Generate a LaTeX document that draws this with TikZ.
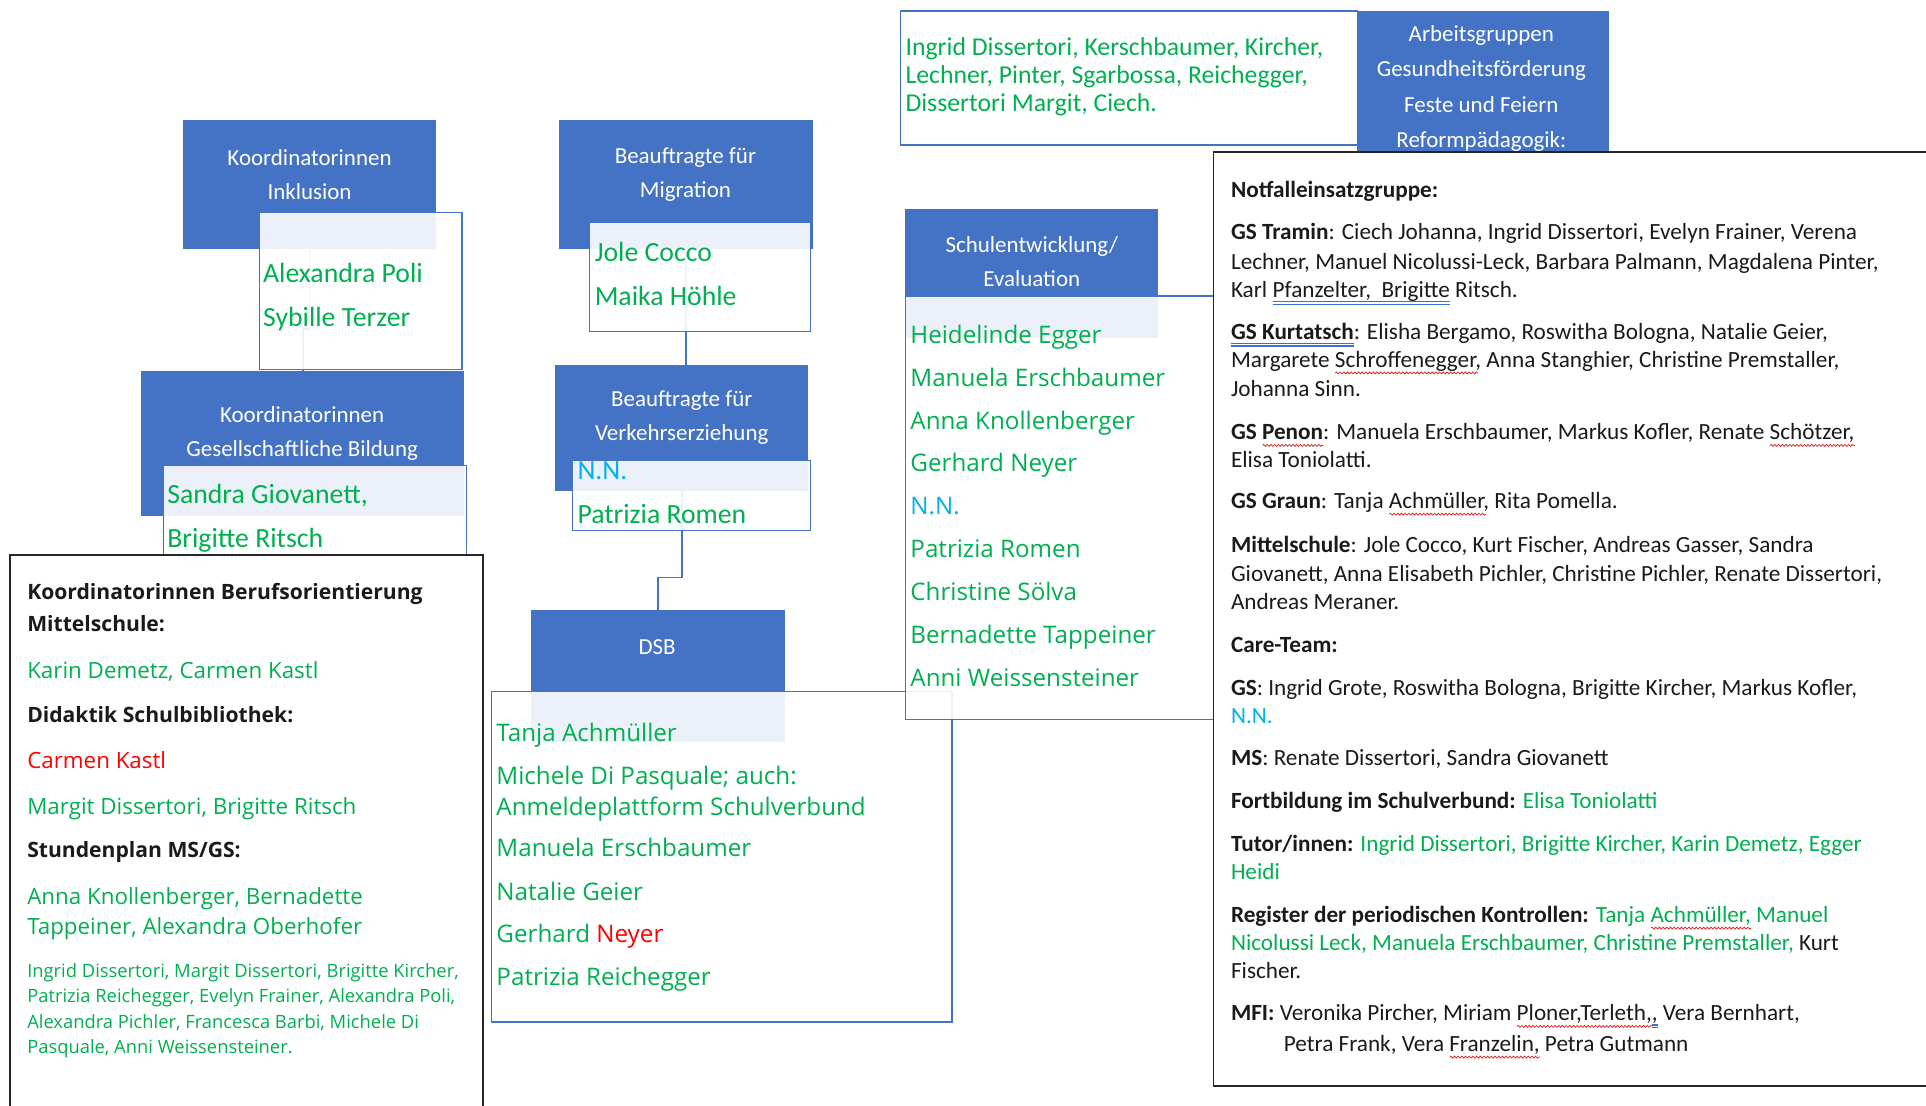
\documentclass[tikz,border=0pt]{standalone}
\usepackage{fontspec}
\setmainfont{Carlito}
\newfontfamily\osans{Open Sans}
\usetikzlibrary{backgrounds,decorations.pathmorphing}
\definecolor{boxblue}{HTML}{4472C4}
\definecolor{mygreen}{HTML}{00B050}
\definecolor{mycyan}{HTML}{00B0F0}
\definecolor{myred}{HTML}{FF0000}
\definecolor{txt}{HTML}{1A1A1A}
\definecolor{wavered}{HTML}{E02020}
\definecolor{ulblue}{HTML}{3B6FD8}
\newlength\mkwd
\newcommand\rwave[1]{\settowidth\mkwd{#1}\rlap{\tikz[baseline=0pt]{\draw[wavered, line width=0.6pt, decorate, decoration={snake, amplitude=0.8pt, segment length=3pt}] (0pt,-4.6pt) -- (\mkwd,-4.6pt);}}#1}
\newcommand\bdbl[1]{\settowidth\mkwd{#1}\rlap{\color{ulblue}\rule[-3.9pt]{\mkwd}{0.9pt}}\rlap{\color{ulblue}\rule[-6.1pt]{\mkwd}{0.9pt}}#1}
\begin{document}
\begin{tikzpicture}[x=1pt,y=-1pt,
  bluebox/.style={fill=boxblue, draw=none, inner sep=0pt, outer sep=0pt, anchor=north west},
  namebox/.style={fill=white, fill opacity=0.9, draw=boxblue, line width=1.1pt, inner sep=0pt, outer sep=0pt, anchor=north west},
  panel/.style={fill=white, draw=black!85, line width=1.4pt, inner sep=0pt, outer sep=0pt, anchor=north west},
  conn/.style={draw=boxblue, line width=1.3pt},
  hdr/.style={text=white, align=center, inner sep=0pt, font=\fontsize{18.7}{28}\selectfont},
  nm/.style={anchor=base west, inner sep=0pt, text=mygreen, font=\fontsize{22.6}{27}\selectfont},
  tg/.style={anchor=base west, inner sep=0pt, text=mygreen, font=\fontsize{20.95}{23}\selectfont},
  os/.style={anchor=base west, inner sep=0pt, text=mygreen, font=\osans\fontsize{19.7}{24}\selectfont},
  lb/.style={anchor=base west, inner sep=0pt, text=txt, font=\osans\bfseries\fontsize{17.2}{20}\selectfont},
  lg/.style={anchor=base west, inner sep=0pt, text=mygreen, font=\osans\fontsize{18.2}{22}\selectfont},
  ls/.style={anchor=base west, inner sep=0pt, text=mygreen, font=\osans\fontsize{14.95}{18}\selectfont},
  rp/.style={anchor=base west, inner sep=0pt, text=txt, font=\fontsize{18.9}{23}\selectfont}]
\clip (0,0) rectangle (1568,900);

% blue header boxes
\node[bluebox, minimum width=206pt, minimum height=105pt] (inklB) at (149,98) {};
\node[bluebox, minimum width=263pt, minimum height=118pt] (gesB) at (115,302) {};
\node[bluebox, minimum width=207pt, minimum height=105pt] (migB) at (455,98) {};
\node[bluebox, minimum width=206pt, minimum height=103pt] (verB) at (452,297) {};
\node[bluebox, minimum width=207pt, minimum height=107pt] (dsbB) at (432,497) {};
\node[bluebox, minimum width=206pt, minimum height=105pt] (schB) at (737,170) {};
\node[bluebox, minimum width=205pt, minimum height=135pt] (agB) at (1105,9) {};

% page background and connectors (under everything)
\begin{pgfonlayer}{background}
\fill[white] (0,0) rectangle (1568,900);
\draw[conn] (inklB.south) -- ++(0,65) -| (gesB.north);
\draw[conn] (migB.south) -- (migB.south |- verB.north);
\draw[conn] (verB.south) -- ++(0,70) -| (dsbB.north);
\end{pgfonlayer}

% name boxes
\node[namebox, minimum width=165pt, minimum height=128pt] (inklW) at (211,173) {};
\node[namebox, minimum width=247pt, minimum height=100pt] (gesW) at (133,379) {};
\node[namebox, minimum width=180pt, minimum height=89pt] (migW) at (480,181) {};
\node[namebox, minimum width=194pt, minimum height=57pt] (verW) at (466,375) {};
\node[namebox, minimum width=375pt, minimum height=269pt] (dsbW) at (400,563) {};
\node[namebox, minimum width=251pt, minimum height=345pt] (schW) at (737,241) {};
\node[namebox, minimum width=372pt, minimum height=109pt] (agW) at (733,9) {};

% header texts
\node[hdr] (inklH) at (252,142) {Koordinatorinnen\\Inklusion};
\node[hdr] (gesH) at (246,353) {Koordinatorinnen\\Gesellschaftliche Bildung};
\node[hdr] (migH) at (558,142) {Beauftragte für\\Migration};
\node[hdr] (verH) at (555,340) {Beauftragte für\\Verkehrserziehung};
\node[hdr] (dsbH) at (535,527) {DSB};
\node[hdr] (schH) at (840,213) {Schulentwicklung/\\Evaluation};
\node[hdr, font=\fontsize{18.7}{29}\selectfont] (agH) at (1206,72) {Arbeitsgruppen\\Gesundheitsförderung\\Feste und Feiern\\Reformpädagogik:};

% names
\node[nm] (n1) at (214,230) {Alexandra Poli};
\node[nm] (n2) at (214,266) {Sybille Terzer};
\node[nm] (n3) at (136,410) {Sandra Giovanett,};
\node[nm] (n4) at (136,446) {Brigitte Ritsch};
\node[nm] (n5) at (484,213) {Jole Cocco};
\node[nm] (n6) at (484,249) {Maika Höhle};
\node[nm, text=mycyan] (n7) at (470,390) {N.N.};
\node[nm] (n8) at (470,426) {Patrizia Romen};

\node[tg] (t1) at (737,45.5) {Ingrid Dissertori, Kerschbaumer, Kircher,};
\node[tg] (t2) at (737,68) {Lechner, Pinter, Sgarbossa, Reichegger,};
\node[tg] (t3) at (737,90.5) {Dissertori Margit, Ciech.};

% Schulentwicklung list
\foreach \t [count=\i from 0] in {Heidelinde Egger, Manuela Erschbaumer, Anna Knollenberger, Gerhard Neyer, {\textcolor{mycyan}{N.N.}}, Patrizia Romen, Christine Sölva, Bernadette Tappeiner, Anni Weissensteiner}
  \node[os] (s\i) at (741,279.5+34.9*\i) {\t};

% DSB list
\node[os] (d1) at (404,603.5) {Tanja Achmüller};
\node[os] (d2) at (404,638.5) {Michele Di Pasquale; auch:};
\node[os] (d3) at (404,663.5) {Anmeldeplattform Schulverbund};
\node[os] (d4) at (404,697.5) {Manuela Erschbaumer};
\node[os] (d5) at (404,733.5) {Natalie Geier};
\node[os] (d6) at (404,767.5) {Gerhard \textcolor{myred}{Neyer}};
\node[os] (d7) at (404,802.5) {Patrizia Reichegger};

% left panel
\node[panel, minimum width=385pt, minimum height=470pt] (leftP) at (8,452) {};
\node[lb] (l1) at (22,488) {Koordinatorinnen Berufsorientierung};
\node[lb] (l2) at (22,514) {Mittelschule:};
\node[lg] (l3) at (22,552) {Karin Demetz, Carmen Kastl};
\node[lb] (l4) at (22,588) {Didaktik Schulbibliothek:};
\node[lg, text=myred] (l5) at (22,626) {Carmen Kastl};
\node[lg] (l6) at (22,663) {Margit Dissertori, Brigitte Ritsch};
\node[lb] (l7) at (22,698) {Stundenplan MS/GS:};
\node[lg] (l8) at (22,736) {Anna Knollenberger, Bernadette};
\node[lg] (l9) at (22,761) {Tappeiner, Alexandra Oberhofer};
\node[ls] (l10) at (22,796) {Ingrid Dissertori, Margit Dissertori, Brigitte Kircher,};
\node[ls] (l11) at (22,816) {Patrizia Reichegger, Evelyn Frainer, Alexandra Poli,};
\node[ls] (l12) at (22,837) {Alexandra Pichler, Francesca Barbi, Michele Di};
\node[ls] (l13) at (22,858) {Pasquale, Anni Weissensteiner.};

% right panel
\node[panel, minimum width=620pt, minimum height=760pt] (rightP) at (988,124) {};
\node[rp] (r1) at (1002,161) {\textbf{Notfalleinsatzgruppe:}};
\node[rp] (r2) at (1002,195) {\textbf{GS Tramin}: Ciech Johanna, Ingrid Dissertori, Evelyn Frainer, Verena};
\node[rp] (r3) at (1002,219) {Lechner, Manuel Nicolussi-Leck, Barbara Palmann, Magdalena Pinter,};
\node[rp] (r4) at (1002,242) {Karl \bdbl{Pfanzelter,\ \ Brigitte} Ritsch.};
\node[rp] (r5) at (1002,276) {\bdbl{\textbf{GS Kurtatsch}}: Elisha Bergamo, Roswitha Bologna, Natalie Geier,};
\node[rp] (r6) at (1002,299) {Margarete \rwave{Schroffenegger}, Anna Stanghier, Christine Premstaller,};
\node[rp] (r7) at (1002,323) {Johanna Sinn.};
\node[rp] (r8) at (1002,358) {\textbf{GS \rwave{Penon}}: Manuela Erschbaumer, Markus Kofler, Renate \rwave{Schötzer,}};
\node[rp] (r9) at (1002,381) {Elisa Toniolatti.};
\node[rp] (r10) at (1002,414) {\textbf{GS Graun}: Tanja \rwave{Achmüller}, Rita Pomella.};
\node[rp] (r11) at (1002,450) {\textbf{Mittelschule}: Jole Cocco, Kurt Fischer, Andreas Gasser, Sandra};
\node[rp] (r12) at (1002,473) {Giovanett, Anna Elisabeth Pichler, Christine Pichler, Renate Dissertori,};
\node[rp] (r13) at (1002,496) {Andreas Meraner.};
\node[rp] (r14) at (1002,531) {\textbf{Care-Team:}};
\node[rp] (r15) at (1002,566) {\textbf{GS}: Ingrid Grote, Roswitha Bologna, Brigitte Kircher, Markus Kofler,};
\node[rp, text=mycyan] (r16) at (1002,589) {N.N.};
\node[rp] (r17) at (1002,623) {\textbf{MS}: Renate Dissertori, Sandra Giovanett};
\node[rp] (r18) at (1002,658) {\textbf{Fortbildung im Schulverbund:} \textcolor{mygreen}{Elisa Toniolatti}};
\node[rp] (r19) at (1002,693) {\textbf{Tutor/innen:} \textcolor{mygreen}{Ingrid Dissertori, Brigitte Kircher, Karin Demetz, Egger}};
\node[rp, text=mygreen] (r20) at (1002,716) {Heidi};
\node[rp] (r21) at (1002,751) {\textbf{Register der periodischen Kontrollen:} \textcolor{mygreen}{Tanja \rwave{Achmüller,} Manuel}};
\node[rp] (r22) at (1002,774) {\textcolor{mygreen}{Nicolussi Leck, Manuela Erschbaumer, Christine Premstaller,} Kurt};
\node[rp] (r23) at (1002,797) {Fischer.};
\node[rp] (r24) at (1002,831) {\textbf{MFI:} Veronika Pircher, Miriam \rwave{Ploner,Terleth,}\bdbl{,} Vera Bernhart,};
\node[rp] (r25) at (1045,856) {Petra Frank, Vera \rwave{Franzelin,} Petra Gutmann};
\end{tikzpicture}
\end{document}
